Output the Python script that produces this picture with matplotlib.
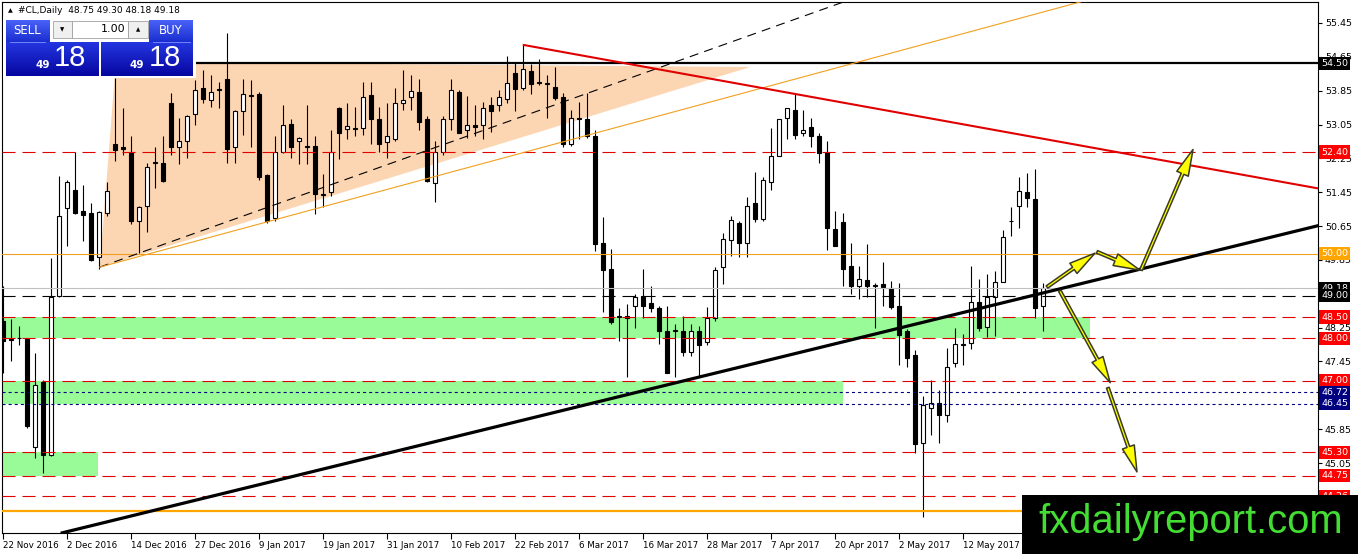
import numpy as np
import matplotlib
matplotlib.use("Agg")
import matplotlib.pyplot as plt
import matplotlib.transforms as mtransforms
from matplotlib.patches import Rectangle, Polygon, FancyArrowPatch, ArrowStyle
from matplotlib.colors import to_rgb

W, H = 1358, 554
plt.rcParams['font.family'] = ['DejaVu Sans']
plt.rcParams['lines.scale_dashes'] = False

# --- CL daily candles, 22 Nov 2016 .. 26 May 2017 ---
opens = [48.41, 47.98, 48.01, 47.98, 45.43, 46.97, 45.24, 49.00, 51.07, 51.50,
         51.00, 50.95, 49.92, 50.95, 52.60, 52.53, 52.41, 50.77, 51.12, 52.14,
         52.13, 53.57, 52.51, 52.67, 53.31, 53.92, 53.64, 53.86, 54.13, 52.51,
         53.38, 53.72, 53.78, 51.85, 50.84, 52.39, 53.07, 52.65, 52.52, 52.55,
         51.39, 51.45, 53.45, 52.95, 52.95, 52.96, 53.75, 53.17, 52.63, 52.70,
         53.57, 53.71, 53.83, 53.19, 51.66, 52.39, 53.17, 53.83, 52.91, 53.03,
         53.03, 53.50, 53.50, 53.66, 54.27, 53.92, 54.32, 54.03, 54.00, 53.94,
         53.71, 52.60, 53.18, 53.19, 52.77, 50.25, 49.64, 48.50, 48.48, 48.77,
         49.00, 48.84, 48.72, 48.18, 48.16, 48.16, 47.68, 48.16, 47.92, 48.48,
         49.68, 50.32, 50.72, 50.25, 51.19, 50.81, 51.68, 52.30, 53.21, 53.40,
         52.86, 53.00, 52.79, 52.39, 50.58, 50.74, 49.71, 49.24, 49.38, 49.25,
         49.29, 49.19, 48.77, 48.16, 47.61, 45.53, 46.35, 46.47, 46.19, 47.42,
         47.85, 47.89, 48.86, 48.27, 48.98, 49.33, 50.76, 51.12, 51.45, 51.28,
         48.75]
highs = [49.24, 48.46, 48.30, 48.00, 47.65, 47.02, 49.90, 51.83, 51.75, 52.41,
         51.61, 51.19, 51.00, 51.68, 54.16, 53.43, 52.77, 51.12, 52.15, 52.53,
         52.77, 53.80, 53.21, 53.28, 54.11, 54.34, 54.23, 54.06, 55.21, 53.40,
         54.13, 54.11, 53.82, 51.87, 52.77, 53.52, 53.17, 52.75, 53.52, 52.79,
         51.87, 52.93, 53.47, 53.57, 53.47, 54.06, 54.06, 53.47, 53.57, 53.92,
         54.34, 54.23, 54.13, 53.24, 52.65, 53.24, 54.13, 53.87, 53.73, 53.52,
         53.59, 53.71, 53.87, 54.67, 54.51, 54.93, 54.48, 54.60, 54.23, 54.41,
         53.80, 53.40, 53.59, 53.80, 52.93, 50.86, 50.11, 48.72, 48.81, 49.05,
         49.64, 49.24, 48.77, 48.77, 48.34, 48.53, 48.34, 48.30, 48.74, 49.68,
         50.48, 50.88, 50.77, 51.33, 51.92, 51.82, 52.96, 53.19, 53.45, 53.76,
         53.40, 53.21, 52.86, 52.65, 51.00, 50.96, 50.25, 49.71, 50.22, 49.30,
         49.80, 49.36, 49.31, 48.22, 47.72, 46.63, 47.02, 46.78, 47.77, 48.25,
         48.11, 49.71, 49.40, 49.52, 49.59, 50.55, 51.10, 51.80, 51.90, 52.01,
         49.30]
lows = [47.18, 47.45, 47.83, 45.88, 45.17, 44.81, 45.21, 48.98, 50.18, 50.93,
        50.30, 49.83, 49.64, 50.88, 52.18, 52.34, 50.70, 50.01, 50.51, 51.54,
        51.68, 52.34, 52.11, 52.27, 53.05, 53.57, 53.47, 53.43, 52.15, 52.15,
        52.81, 52.53, 51.75, 50.72, 50.77, 52.37, 52.27, 52.11, 52.11, 50.93,
        51.10, 51.35, 52.23, 52.70, 52.77, 52.81, 52.58, 52.39, 52.27, 52.65,
        53.40, 53.40, 52.93, 51.68, 51.21, 52.34, 52.93, 52.86, 52.72, 52.77,
        52.70, 52.88, 53.36, 53.57, 53.36, 53.87, 53.78, 53.99, 53.21, 53.64,
        52.53, 52.55, 52.70, 52.72, 50.06, 48.63, 48.34, 47.94, 47.09, 48.23,
        48.48, 48.63, 47.87, 47.18, 47.09, 47.59, 47.59, 47.09, 47.83, 48.41,
        49.29, 49.94, 49.92, 49.92, 50.74, 50.77, 51.50, 52.30, 52.70, 52.70,
        52.77, 52.53, 52.13, 50.08, 50.18, 49.24, 49.05, 48.93, 48.98, 48.25,
        48.77, 48.70, 47.37, 47.32, 45.29, 43.77, 45.72, 45.53, 46.02, 47.32,
        47.37, 47.75, 48.18, 48.04, 48.06, 49.33, 50.41, 50.60, 51.10, 48.48,
        48.18]
closes = [47.94, 47.96, 48.00, 45.93, 46.89, 45.24, 48.98, 50.88, 51.68, 50.95,
          50.91, 49.85, 50.98, 51.47, 52.44, 52.48, 50.77, 51.10, 52.04, 52.16,
          51.71, 52.51, 52.67, 53.26, 53.87, 53.66, 53.83, 53.88, 52.48, 53.38,
          53.78, 53.74, 51.80, 50.77, 52.39, 53.03, 52.53, 52.72, 52.54, 51.40,
          51.41, 52.39, 52.86, 53.02, 52.97, 53.71, 53.19, 52.58, 52.79, 53.57,
          53.64, 53.85, 53.10, 51.71, 52.39, 53.17, 53.87, 52.86, 53.05, 52.98,
          53.45, 53.36, 53.69, 54.04, 53.90, 54.37, 54.01, 54.05, 54.02, 53.68,
          52.58, 53.21, 53.20, 52.77, 50.23, 49.61, 48.39, 48.52, 48.53, 48.98,
          48.77, 48.72, 48.18, 47.18, 48.20, 47.68, 48.16, 47.85, 48.48, 49.61,
          50.34, 50.79, 50.25, 51.12, 50.81, 51.75, 52.30, 53.17, 53.43, 52.81,
          52.93, 52.77, 52.37, 50.60, 50.18, 49.64, 49.24, 49.40, 49.24, 49.24,
          49.22, 48.74, 48.08, 47.54, 45.50, 46.42, 46.47, 46.19, 47.32, 47.87,
          47.87, 48.86, 48.25, 48.98, 49.33, 50.39, 50.78, 51.47, 51.31, 48.72,
          49.18]

date_ticks = [0, 8, 16, 24, 32, 40, 48, 56, 64, 72, 80, 88, 96, 104, 112, 120]
date_labels = ["22 Nov 2016", "2 Dec 2016", "14 Dec 2016", "27 Dec 2016", "9 Jan 2017",
               "19 Jan 2017", "31 Jan 2017", "10 Feb 2017", "22 Feb 2017", "6 Mar 2017",
               "16 Mar 2017", "28 Mar 2017", "7 Apr 2017", "20 Apr 2017", "2 May 2017",
               "12 May 2017"]
price_ticks = [55.45, 54.65, 53.85, 53.05, 52.25, 51.45, 50.65, 49.85, 49.05,
               48.25, 47.45, 46.65, 45.85, 45.05, 44.25]

# horizontal levels
red_levels = [52.40, 48.50, 48.00, 47.00, 45.30, 44.75, 44.26]
navy_levels = [46.72, 46.45]
resist_level = 54.50
orange_level = 50.00
orange_base = 43.92
bid_level = 49.18
black_dash_level = 49.00

# support zones (lower, upper, last bar reached)
zone_lo = [48.00, 46.45, 44.75]
zone_hi = [48.50, 47.00, 45.30]
zone_end = [135.9, 105.0, 11.9]

# drawn objects (bar index, price)
tri_pts = [(12.1, 49.68), (14.1, 54.53), (93.4, 54.41)]
trend_black = [(7.4, 43.40), (164.4, 50.66)]
trend_red = [(65.1, 54.93), (164.4, 51.54)]
trend_dash = [(12.1, 49.68), (106.0, 56.01)]
trend_orange = [(12.1, 49.68), (135.5, 55.99)]
arrows = [((130.5, 49.21), (136.5, 50.01)),
          ((136.75, 50.04), (142.1, 49.61)),
          ((142.25, 49.61), (148.75, 52.46)),
          ((132.1, 49.12), (138.4, 46.95)),
          ((138.1, 46.83), (141.75, 44.84))]

axis_labels = [(54.50, 'black'), (52.40, '#ff0000'), (50.00, '#ffa500'),
               (49.18, 'black'), (49.00, 'black'), (48.50, '#ff0000'),
               (48.00, '#ff0000'), (47.00, '#ff0000'), (46.72, '#000080'),
               (46.45, '#000080'), (45.30, '#ff0000'), (44.75, '#ff0000'),
               (44.26, '#ff0000')]

fig = plt.figure(figsize=(W / 100, H / 100), dpi=100)
ax = fig.add_axes([2 / W, 1 - 533 / H, 1316 / W, 531 / H])
ax.set_xlim(-0.125, 164.375)
ax.set_ylim(43.396, 55.946)
ax.set_facecolor('white')

# background objects
for lo, hi, end in zip(zone_lo, zone_hi, zone_end):
    ax.add_patch(Rectangle((-1, lo), end + 1, hi - lo, color='#98fb98', lw=0, zorder=1))
ax.add_patch(Polygon(tri_pts, closed=True, color='#fcd5b2', lw=0, zorder=1))

# candles
x = np.arange(len(opens))
o = np.array(opens)
c = np.array(closes)
up = c >= o
bot = np.minimum(o, c)
hgt = np.abs(c - o)
ax.vlines(x, lows, highs, color='black', lw=0.8, zorder=4)
ax.bar(x[up], hgt[up], bottom=bot[up], width=0.6, color='white',
       edgecolor='black', lw=0.8, zorder=5)
ax.bar(x[~up], hgt[~up], bottom=bot[~up], width=0.6, color='black',
       edgecolor='black', lw=0.8, zorder=5)

# levels
dash = (0, (9.4, 5.0))
for p in red_levels:
    ax.axhline(p, color='#e00000', lw=0.8, linestyle=dash, zorder=6)
for p in navy_levels:
    ax.axhline(p, color='#000080', lw=0.8, linestyle=(0, (2.2, 2.2)), zorder=6)
ax.axhline(resist_level, color='black', lw=1.6, zorder=6)
ax.axhline(orange_level, color='#f0a020', lw=0.8, zorder=6)
ax.axhline(orange_base, color='#ffa500', lw=1.6, zorder=6)
ax.axhline(bid_level, color='#c0c0c0', lw=0.8, zorder=6)
ax.axhline(black_dash_level, color='black', lw=0.8, linestyle=dash, zorder=6)

# trend lines
ax.plot(*zip(*trend_dash), color='black', lw=0.8, linestyle=(0, (6.5, 4.5)), zorder=6)
ax.plot(*zip(*trend_orange), color='#f0a020', lw=0.8, zorder=6)
ax.plot(*zip(*trend_red), color='#e00000', lw=1.5, zorder=7)
ax.plot(*zip(*trend_black), color='black', lw=2.3, zorder=7)

# arrows
astyle = ArrowStyle.Simple(head_length=19, head_width=9, tail_width=2.0)
for a, b in arrows:
    ax.add_patch(FancyArrowPatch(a, b, arrowstyle=astyle, mutation_scale=1,
                                 fc='#ffff00', ec='#3b3b22', lw=1.1,
                                 shrinkA=0, shrinkB=0, zorder=8))

# axes
for s in ax.spines.values():
    s.set_color('black')
    s.set_linewidth(0.8)
ax.yaxis.tick_right()
ax.set_yticks(price_ticks)
ax.set_yticklabels(['%.2f' % v for v in price_ticks])
ax.tick_params(axis='y', direction='out', length=3, width=0.8, pad=2,
               labelsize=6.8, colors='black')
ax.set_xticks(date_ticks)
ax.set_xticklabels(date_labels)
ax.tick_params(axis='x', direction='out', length=4, width=0.8, pad=2,
               labelsize=6.3, colors='black')
for lab in ax.get_xticklabels():
    lab.set_ha('left')

ltrans = mtransforms.offset_copy(
    mtransforms.blended_transform_factory(ax.transAxes, ax.transData),
    fig=fig, x=3, y=0, units='dots')
for p, col in axis_labels:
    ax.text(1.0, p, '%.2f' % p, transform=ltrans, ha='left', va='center',
            fontsize=6.8, color='white', zorder=20, clip_on=False,
            bbox=dict(boxstyle='square,pad=0.22', fc=col, ec='none'))

# overlay in pixel coordinates: trade panel, header, watermark
ov = fig.add_axes([0, 0, 1, 1])
ov.axis('off')
ov.patch.set_alpha(0)


def grad_box(x0, y0, x1, y1, ctop, cbot):
    g = np.linspace(0, 1, 60)[:, None, None]
    img = np.array(to_rgb(ctop)) * (1 - g) + np.array(to_rgb(cbot)) * g
    ov.imshow(np.repeat(img, 2, axis=1), extent=(x0, x1, y1, y0), aspect='auto',
              interpolation='bilinear', zorder=3)


ov.add_patch(Rectangle((3, 17), 193, 61, color='white', lw=0, zorder=2))
grad_box(6, 20, 50, 42, '#4a62f8', '#1a2ed0')
grad_box(149, 20, 193, 42, '#4a62f8', '#1a2ed0')
grad_box(6, 42, 99, 76, '#2436e0', '#0606a0')
grad_box(101, 42, 193, 76, '#2436e0', '#0606a0')
ov.plot([10, 45], [42, 42], color='#8090ff', lw=0.6, zorder=4)
ov.plot([153, 190], [42, 42], color='#8090ff', lw=0.6, zorder=4)
ov.add_patch(Rectangle((53, 21), 19, 17, fc='#f0f0f0', ec='#a0a0a0', lw=0.6, zorder=3))
ov.add_patch(Rectangle((72, 21), 56, 17, fc='white', ec='#a0a0a0', lw=0.6, zorder=3))
ov.add_patch(Rectangle((128, 21), 20, 17, fc='#f0f0f0', ec='#a0a0a0', lw=0.6, zorder=3))
ov.text(62.5, 29.5, '\u25BC', fontsize=4, ha='center', va='center', zorder=5)
ov.text(138, 29.5, '\u25B2', fontsize=4, ha='center', va='center', zorder=5)
ov.text(125, 29.5, '1.00', fontsize=8, ha='right', va='center', zorder=5)
ov.text(27, 31, 'SELL', fontsize=8.5, color='white', ha='center', va='center', zorder=5)
ov.text(171, 31, 'BUY', fontsize=8.5, color='white', ha='center', va='center', zorder=5)
for xs, xb in [(42.5, 70), (136.5, 165)]:
    ov.text(xs, 65.5, '49', fontsize=7.5, fontweight='bold', color='white',
            ha='center', va='center', zorder=5)
    ov.text(xb, 58, '18', fontsize=21, color='white', ha='center', va='center',
            family=['Liberation Sans', 'DejaVu Sans'], zorder=5)

ov.text(10, 10.5, '\u25B2', fontsize=4.5, ha='center', va='center', zorder=5)
ov.text(18, 10.5, '#CL,Daily  48.75 49.30 48.18 49.18', fontsize=6.5,
        ha='left', va='center', zorder=5)

ov.add_patch(Rectangle((1022, 495), 336, 59, color='black', lw=0, zorder=6))
ov.text(1038, 533, 'fxdailyreport.com', fontsize=28.8, color='#44dd33',
        family=['Liberation Sans', 'DejaVu Sans'], ha='left', va='baseline', zorder=7)

ov.set_xlim(0, W)
ov.set_ylim(H, 0)

fig.savefig('out.png', dpi=100, facecolor='white')
